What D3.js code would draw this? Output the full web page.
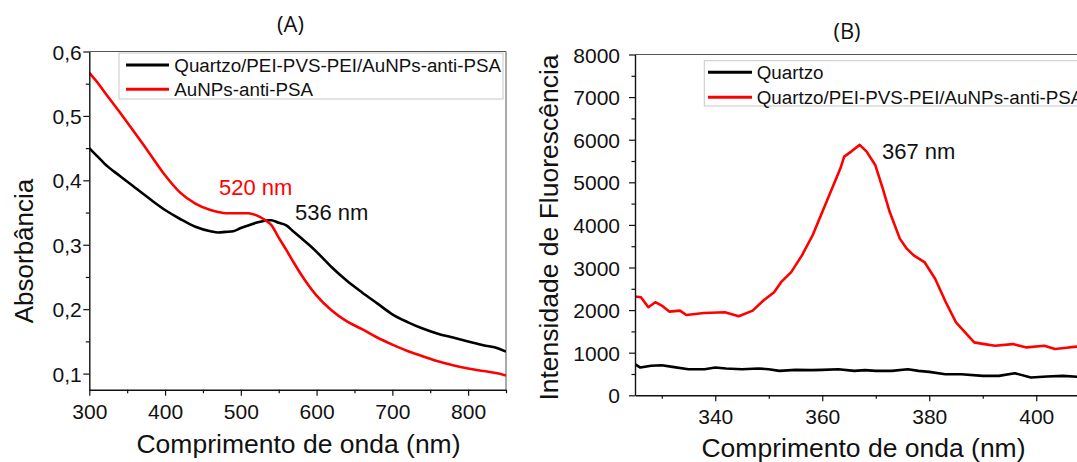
<!DOCTYPE html>
<html>
<head>
<meta charset="utf-8">
<script src="https://cdn.jsdelivr.net/npm/d3@7"></script>
<style>
  html, body { margin: 0; padding: 0; background: #fff; }
  svg { display: block; }
  text { font-family: "Liberation Sans", Arial, sans-serif; fill: #111; }
</style>
</head>
<body>
<svg id="chart" width="1077" height="462"></svg>
<script>
// ---------- Panel A data (UV-Vis absorbance) ----------
const absWavelengths = [300,310,320,340,360,380,400,420,440,460,470,480,490,500,510,520,530,536,540,550,560,570,580,590,600,620,640,660,680,700,720,740,760,780,800,820,840,850];
const absFilm = [0.450,0.438,0.426,0.407,0.389,0.371,0.354,0.340,0.328,0.321,0.319,0.320,0.321,0.326,0.330,0.334,0.337,0.338,0.338,0.334,0.330,0.320,0.310,0.300,0.289,0.265,0.244,0.226,0.209,0.192,0.180,0.170,0.162,0.156,0.150,0.144,0.139,0.134];
const absSolution = [0.567,0.553,0.537,0.506,0.474,0.441,0.408,0.381,0.364,0.354,0.351,0.349,0.349,0.349,0.349,0.346,0.340,0.335,0.331,0.311,0.292,0.272,0.253,0.236,0.221,0.198,0.181,0.169,0.156,0.145,0.135,0.127,0.119,0.113,0.108,0.104,0.100,0.097];
const absLegend = ["Quartzo/PEI-PVS-PEI/AuNPs-anti-PSA", "AuNPs-anti-PSA"];
const absYTicks = [0.1,0.2,0.3,0.4,0.5,0.6];
const absYMinor = [0.15,0.25,0.35,0.45,0.55];
const absXTicks = [300,400,500,600,700,800];
const absXMinor = [350,450,550,650,750,850];

// ---------- Panel B data (fluorescence) ----------
const fluoWavelengths = [325,326.1,327.5,328.8,330,331.4,333.4,334.6,337.9,341.8,344.4,347,349,351,352.3,354.2,356.2,358.2,359.5,360.8,362.1,363.4,364.1,365.4,367,368.3,369.9,371.3,372.6,374.5,375.8,377.1,379.1,381.1,383.1,385,387,388.4,390.3,392.3,395.6,398.2,401.5,403.5,406.1,408,410];
const fluoFilm = [2318,2303,2067,2185,2106,1965,1988,1886,1933,1949,1855,1988,2224,2420,2656,2892,3285,3757,4150,4542,4935,5328,5604,5721,5878,5721,5407,4857,4307,3678,3442,3285,3128,2735,2185,1713,1438,1242,1202,1163,1202,1124,1163,1085,1124,1147,1150];
const quartzWavelengths = [325,326,328,330,332,335,338,340,342,345,348,350,352,355,358,360,363,366,368,370,373,376,378,380,383,386,390,393,396,399,402,405,408,410];
const quartzValues = [731,652,692,707,668,613,613,652,629,613,629,613,574,597,590,597,613,574,590,574,574,613,574,550,495,495,456,456,519,417,440,456,432,440];
const fluoLegend = ["Quartzo", "Quartzo/PEI-PVS-PEI/AuNPs-anti-PSA"];
const fluoYTicks = [0,1000,2000,3000,4000,5000,6000,7000,8000];
const fluoYMinor = [500,1500,2500,3500,4500,5500,6500,7500];
const fluoXTicks = [340,360,380,400];
const fluoXMinor = [330,350,370,390,410];

const svg = d3.select("#chart");
const fmtComma = d => d3.format(".1f")(d).replace(".", ",");

function drawPanel(cfg) {
  const g = svg.append("g");
  const x = d3.scaleLinear().domain(cfg.xDomain).range(cfg.xRange);
  const y = d3.scaleLinear().domain(cfg.yDomain).range(cfg.yRange);
  const [x0, x1] = cfg.xRange, [y0, y1] = cfg.yRange;

  // frame (top / right)
  g.append("line").attr("x1", x0).attr("x2", x1).attr("y1", y1).attr("y2", y1)
    .attr("stroke", "#555").attr("stroke-width", 1);
  g.append("line").attr("x1", x1).attr("x2", x1).attr("y1", y1).attr("y2", y0)
    .attr("stroke", "#555").attr("stroke-width", 1);

  // clip
  const clipId = "clip" + cfg.id;
  svg.append("clipPath").attr("id", clipId).append("rect")
    .attr("x", x0).attr("y", y1).attr("width", x1 - x0).attr("height", y0 - y1);

  // lines
  const line = d3.line().x(d => x(d[0])).y(d => y(d[1])).curve(cfg.curve);
  cfg.series.forEach(s => {
    g.append("path").datum(s.x.map((v, i) => [v, s.y[i]]))
      .attr("d", line).attr("fill", "none").attr("stroke", s.color)
      .attr("stroke-width", 2.6).attr("stroke-linejoin", "round")
      .attr("clip-path", `url(#${clipId})`);
  });

  // minor ticks
  const gxMin = g.append("g").attr("transform", `translate(0,${y0})`)
    .call(d3.axisBottom(x).tickValues(cfg.xMinor).tickSize(3.5).tickFormat(""));
  gxMin.select(".domain").remove();
  const gyMin = g.append("g").attr("transform", `translate(${x0},0)`)
    .call(d3.axisLeft(y).tickValues(cfg.yMinor).tickSize(3.5).tickFormat(""));
  gyMin.select(".domain").remove();

  // major axes
  const gx = g.append("g").attr("transform", `translate(0,${y0})`)
    .call(d3.axisBottom(x).tickValues(cfg.xTicks).tickSize(6).tickSizeOuter(0).tickPadding(cfg.xPad).tickFormat(d3.format("d")));
  const gy = g.append("g").attr("transform", `translate(${x0},0)`)
    .call(d3.axisLeft(y).tickValues(cfg.yTicks).tickSize(6).tickSizeOuter(0).tickPadding(cfg.yPad).tickFormat(cfg.yFormat));
  [gx, gy, gxMin, gyMin].forEach(a => {
    a.selectAll("line").attr("stroke", "#111").attr("stroke-width", 1.2);
    a.selectAll(".domain").attr("stroke", "#111").attr("stroke-width", 1.4);
    a.selectAll("text").attr("font-size", 21).attr("font-family", "Liberation Sans, Arial, sans-serif").attr("fill", "#111");
  });
  gy.selectAll("text").attr("dy", "0.36em");

  // axis titles
  g.append("text").attr("x", cfg.xTitlePos[0]).attr("y", cfg.xTitlePos[1])
    .attr("text-anchor", "middle").attr("font-size", 26.5).text("Comprimento de onda (nm)");
  g.append("text").attr("transform", `translate(${cfg.yTitlePos[0]},${cfg.yTitlePos[1]}) rotate(-90)`)
    .attr("text-anchor", "middle").attr("font-size", cfg.yTitleSize).text(cfg.yTitle);

  // panel title
  g.append("text").attr("x", cfg.titlePos[0]).attr("y", cfg.titlePos[1])
    .attr("text-anchor", "middle").attr("font-size", 22)
    .style("font-family", "'Open Sans', sans-serif").text(cfg.title);

  // legend
  const L = cfg.legend;
  g.append("rect").attr("x", L.x).attr("y", L.y).attr("width", L.w).attr("height", L.h)
    .attr("fill", "#fff").attr("stroke", "#c8c8c8").attr("stroke-width", 1);
  L.items.forEach((it, i) => {
    const cy = L.rowY[i];
    g.append("line").attr("x1", L.lx0).attr("x2", L.lx1).attr("y1", cy).attr("y2", cy)
      .attr("stroke", it.color).attr("stroke-width", 3);
    g.append("text").attr("x", L.tx).attr("y", cy + 6.8).attr("font-size", 18.8).text(it.label);
  });

  // annotations
  cfg.notes.forEach(n => {
    g.append("text").attr("x", n.x).attr("y", n.y).attr("font-size", 22)
      .attr("fill", n.color).style("fill", n.color).text(n.text);
  });
}

drawPanel({
  id: "A",
  xDomain: [300, 850], xRange: [89.3, 506],
  yDomain: [0.075, 0.6], yRange: [389.7, 51.5],
  xTicks: absXTicks, xMinor: absXMinor, yTicks: absYTicks, yMinor: absYMinor,
  xPad: 8.5, yPad: 1.5, yFormat: fmtComma, curve: d3.curveMonotoneX,
  series: [
    { x: absWavelengths, y: absFilm, color: "#000" },
    { x: absWavelengths, y: absSolution, color: "#ff0000" }
  ],
  xTitlePos: [298.5, 453], yTitlePos: [33, 251], yTitle: "Absorbância", yTitleSize: 26,
  title: "(A)", titlePos: [290.5, 32],
  legend: { x: 119, y: 53, w: 384, h: 46, lx0: 126, lx1: 169, tx: 174.3, rowY: [65, 89.3],
    items: [{ label: absLegend[0], color: "#000" }, { label: absLegend[1], color: "#ff0000" }] },
  notes: [
    { text: "520 nm", x: 219, y: 195, color: "#ff0000" },
    { text: "536 nm", x: 295, y: 220, color: "#111" }
  ]
});

drawPanel({
  id: "B",
  xDomain: [325, 410], xRange: [635, 1089.75],
  yDomain: [0, 8000], yRange: [395.3, 54.5],
  xTicks: fluoXTicks, xMinor: fluoXMinor, yTicks: fluoYTicks, yMinor: fluoYMinor,
  xPad: 8, yPad: 9, yFormat: d3.format("d"), curve: d3.curveLinear,
  series: [
    { x: quartzWavelengths, y: quartzValues, color: "#000" },
    { x: fluoWavelengths, y: fluoFilm, color: "#ff0000" }
  ],
  xTitlePos: [863.5, 457], yTitlePos: [558, 227.5], yTitle: "Intensidade de Fluorescência", yTitleSize: 26.5,
  title: "(B)", titlePos: [847, 39],
  legend: { x: 704.3, y: 60.7, w: 420, h: 45.3, lx0: 708, lx1: 752, tx: 756.7, rowY: [72.3, 97.3],
    items: [{ label: fluoLegend[0], color: "#000" }, { label: fluoLegend[1], color: "#ff0000" }] },
  notes: [
    { text: "367 nm", x: 882, y: 159, color: "#111" }
  ]
});
</script>
</body>
</html>
